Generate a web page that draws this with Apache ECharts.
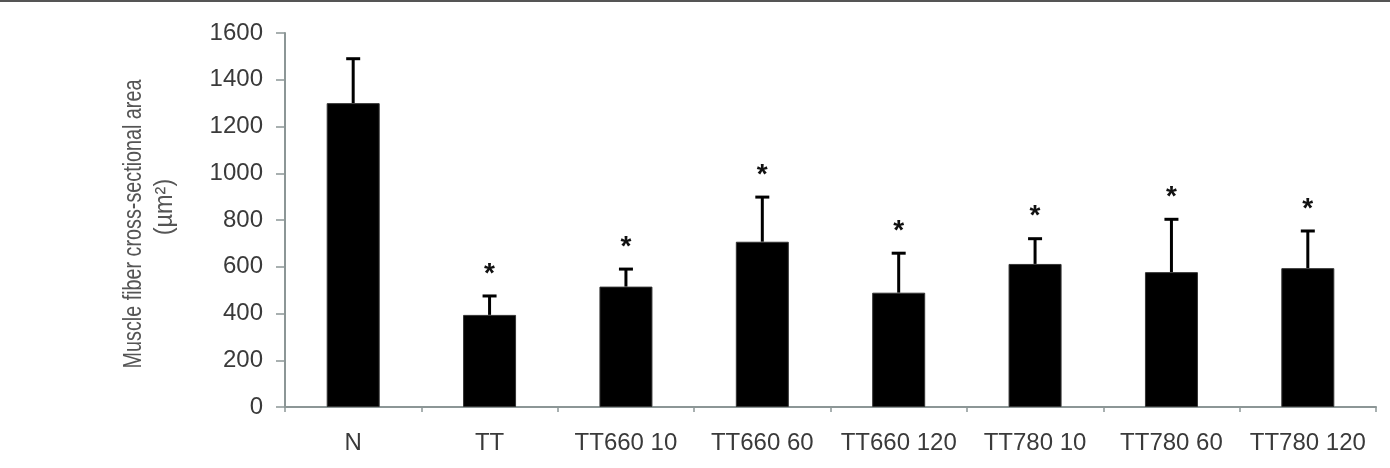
<!DOCTYPE html>
<html>
<head>
<meta charset="utf-8">
<script src="https://cdn.jsdelivr.net/npm/echarts@6/dist/echarts.min.js"></script>
<style>
  html, body { margin: 0; padding: 0; background: #fff; }
  #chart { width: 1390px; height: 468px; }
</style>
</head>
<body>
<div id="chart"></div>
<script>
// groups and values
const categories = ["N", "TT", "TT660 10", "TT660 60", "TT660 120", "TT780 10", "TT780 60", "TT780 120"];
const means = [1300, 394, 515, 707, 489, 612, 577, 594];
const sdUpper = [190, 81, 75, 191, 169, 108, 226, 159];
const significant = [false, true, true, true, true, true, true, true];
const yTicks = [0, 200, 400, 600, 800, 1000, 1200, 1400, 1600];
const yTitle = ["Muscle fiber cross-sectional area", "(µm²)"];

const FONT = '"Liberation Sans", Arial, sans-serif';
const AXIS_GREY = "#8c9696";

const chart = echarts.init(document.getElementById("chart"), null, { renderer: "canvas" });

// error bar + star drawn per category through the axis coords
function renderErr(params, api) {
  const i = api.value(0);
  const base = api.coord([i, api.value(1)]);
  const top = api.coord([i, api.value(1) + api.value(2)]);
  const cap = 7;
  const children = [
    {
      type: "line",
      shape: { x1: base[0], y1: base[1], x2: top[0], y2: top[1] },
      style: { stroke: "#000", lineWidth: 3 },
    },
    {
      type: "line",
      shape: { x1: top[0] - cap, y1: top[1], x2: top[0] + cap, y2: top[1] },
      style: { stroke: "#000", lineWidth: 3 },
    },
  ];
  if (significant[i]) {
    children.push({
      type: "text",
      style: {
        text: "*",
        x: top[0],
        y: top[1] - 22,
        align: "center",
        verticalAlign: "middle",
        font: "bold 28px " + FONT,
        fill: "#111",
      },
    });
  }
  return { type: "group", children };
}

// condensed-looking rotated y title (two lines)
const titleStyle = { font: "26px " + FONT, fill: "#555", align: "center", verticalAlign: "middle" };

chart.setOption({
  animation: false,
  graphic: [
    {
      type: "rect",
      shape: { x: 0, y: 0, width: 1390, height: 2 },
      style: { fill: "#555" },
    },
    {
      type: "text",
      x: 134,
      y: 224,
      rotation: Math.PI / 2,
      scaleX: 0.76,
      style: Object.assign({ text: yTitle[0] }, titleStyle),
    },
    {
      type: "text",
      x: 165,
      y: 207,
      rotation: Math.PI / 2,
      scaleX: 0.9,
      style: Object.assign({ text: yTitle[1] }, titleStyle),
    },
  ],
  grid: { left: 285, right: 14, top: 33, bottom: 61 },
  xAxis: {
    type: "category",
    data: categories,
    axisLine: { lineStyle: { color: AXIS_GREY, width: 2 } },
    axisTick: { show: true, length: 5, lineStyle: { color: AXIS_GREY, width: 1.5 } },
    axisLabel: { color: "#3a3a3a", fontFamily: FONT, fontSize: 24, margin: 24, interval: 0 },
  },
  yAxis: {
    type: "value",
    min: 0,
    max: 1600,
    interval: 200,
    axisLine: { show: true, lineStyle: { color: AXIS_GREY, width: 2 } },
    axisTick: { show: true, length: 9, lineStyle: { color: AXIS_GREY, width: 1.5 } },
    splitLine: { show: false },
    axisLabel: {
      color: "#3a3a3a",
      fontFamily: FONT,
      fontSize: 24,
      margin: 22,
      formatter: (v) => (yTicks.includes(v) ? String(v) : ""),
    },
  },
  series: [
    {
      type: "bar",
      data: means,
      barWidth: 53,
      itemStyle: { color: "#000", borderColor: "#333", borderWidth: 1 },
      z: 2,
    },
    {
      type: "custom",
      renderItem: renderErr,
      data: means.map((m, i) => [i, m, sdUpper[i]]),
      encode: { x: 0, y: 1 },
      z: 1,
    },
  ],
});
</script>
</body>
</html>
